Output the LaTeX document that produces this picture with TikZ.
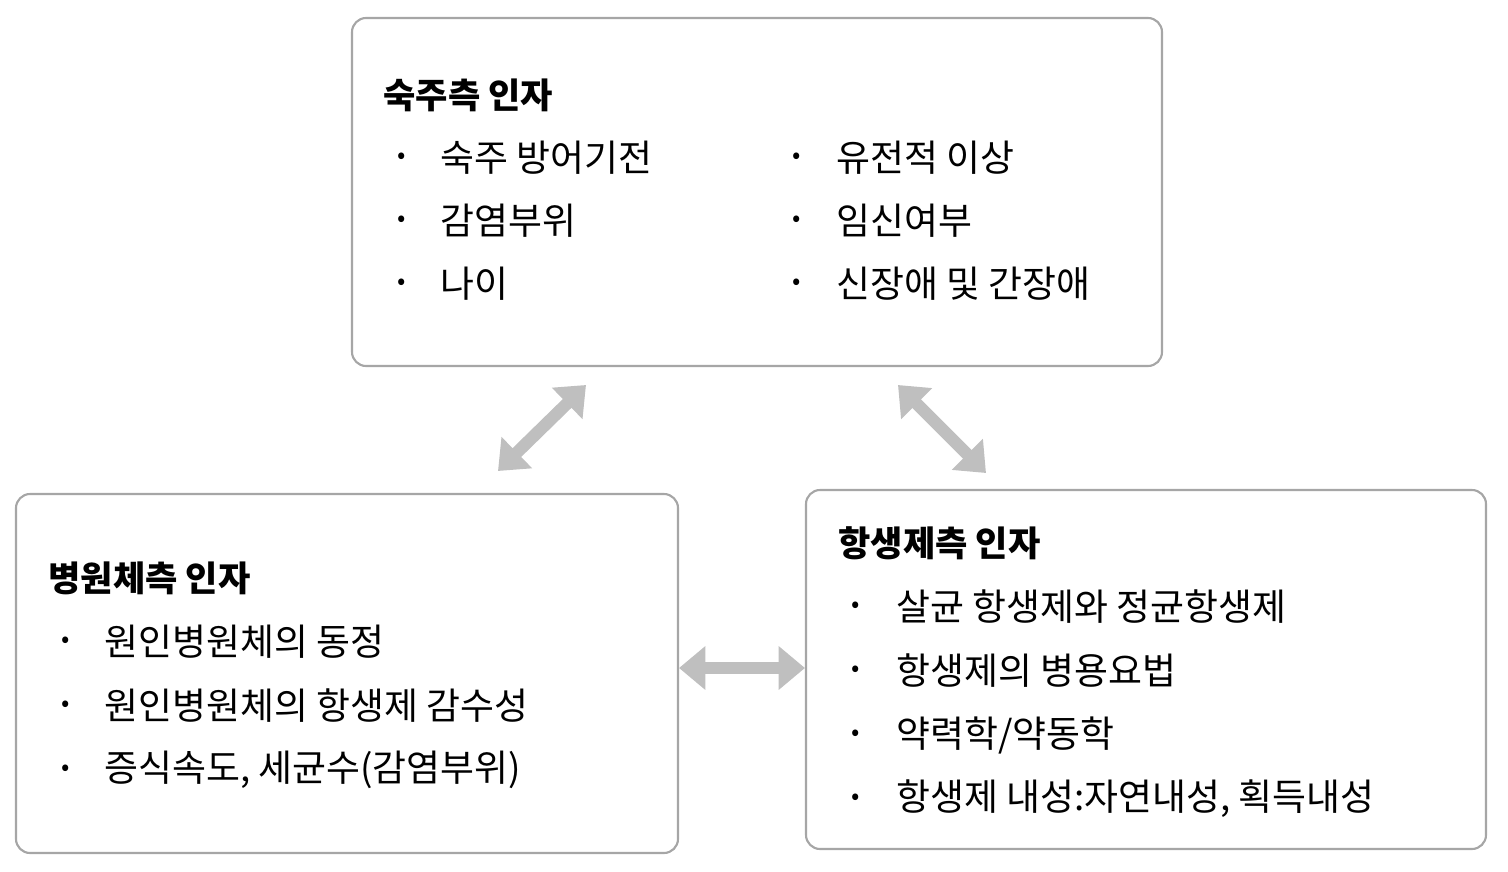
\documentclass[tikz,border=0pt]{standalone}
\usepackage{fontspec}
\setmainfont{Noto Sans CJK KR}
\usetikzlibrary{arrows.meta}
\begin{document}
\begin{tikzpicture}[x=0.02cm,y=-0.02cm,
        box/.style={draw=black!35,line width=1.2pt,rounded corners=8pt,fill=white},
        title/.style={anchor=west,inner sep=0pt,font=\fontsize{20}{24}\selectfont\bfseries},
        item/.style={anchor=west,inner sep=0pt,font=\fontsize{21}{24}\selectfont},
        dot/.style={anchor=center,inner sep=0pt,font=\fontsize{14}{16}\selectfont},
        link/.style={draw=black!25,line width=7pt,{Triangle[length=15pt,width=24pt]}-{Triangle[length=15pt,width=24pt]}}]
    \useasboundingbox (0,0) rectangle (1508,872);
    %% boxes
    \draw[box] (352,18) rectangle (1162,366);
    \draw[box] (16,494) rectangle (678,853);
    \draw[box] (806,490) rectangle (1486,849);
    %% host
    \node[title] (host) at (383,95) {숙주측 인자};
    \foreach \t [count=\i] in {숙주 방어기전,감염부위,나이}{
        \node[dot] at (402,95+63*\i) {•};
        \node[item] (hostL\i) at (440,95+63*\i) {\t};}
    \foreach \t [count=\i] in {유전적 이상,임신여부,신장애 및 간장애}{
        \node[dot] at (797,95+63*\i) {•};
        \node[item] (hostR\i) at (836,95+63*\i) {\t};}
    %% pathogen
    \node[title] (path) at (48,578) {병원체측 인자};
    \foreach \t [count=\i] in {원인병원체의 동정,원인병원체의 항생제 감수성,{증식속도, 세균수(감염부위)}}{
        \node[dot] at (66,578+64*\i) {•};
        \node[item] (path\i) at (104,578+64*\i) {\t};}
    %% antibiotic
    \node[title] (anti) at (838,543) {항생제측 인자};
    \foreach \t [count=\i] in {살균 항생제와 정균항생제,항생제의 병용요법,약력학/약동학,{항생제 내성:자연내성, 획득내성}}{
        \node[dot] at (856,543+64*\i) {•};
        \node[item] (anti\i) at (896,543+64*\i) {\t};}
    %% arrows
    \coordinate (a1) at (498,471);
    \coordinate (a2) at (586,385);
    \coordinate (b1) at (898,385);
    \coordinate (b2) at (986,473);
    \coordinate (c1) at (679,668);
    \coordinate (c2) at (805,668);
    \draw[link] (a1) -- (a2);
    \draw[link] (b1) -- (b2);
    \draw[link] (c1) -- (c2);
\end{tikzpicture}
\end{document}
